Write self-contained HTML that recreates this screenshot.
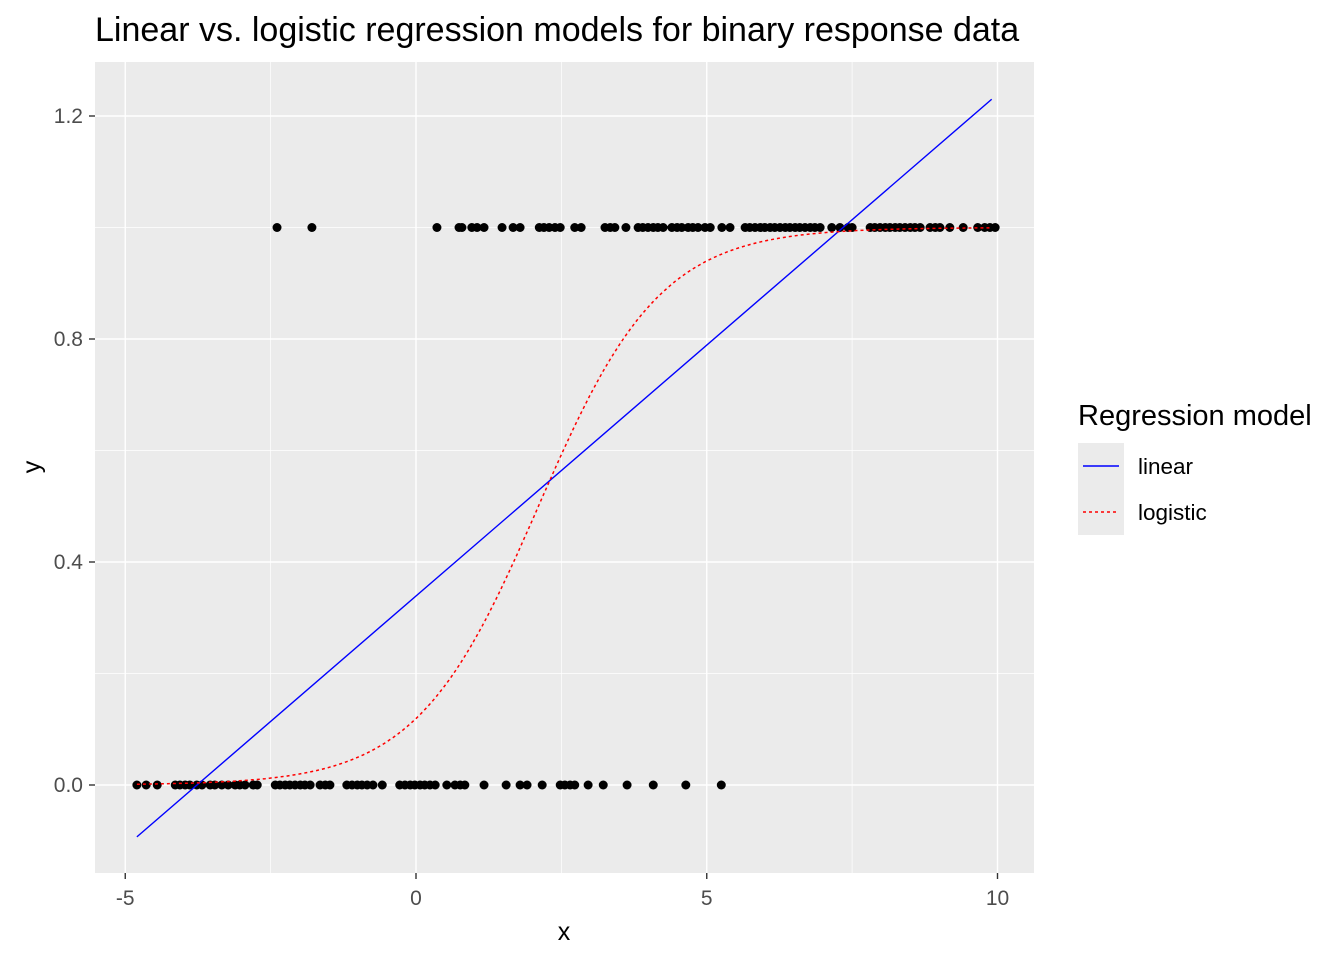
<!DOCTYPE html>
<html><head><meta charset="utf-8"><style>
body{margin:0;background:#fff;font-family:"Liberation Sans",sans-serif}
</style></head><body>
<svg id="c" width="1344" height="960" xmlns="http://www.w3.org/2000/svg" font-family="Liberation Sans, sans-serif"></svg>
<script>
const xTicks=[-5,0,5,10];
const yTicks=[0.0,0.4,0.8,1.2];
const yTickLabels=["0.0","0.4","0.8","1.2"];
const x0=[-4.80,-4.64,-4.45,-4.14,-4.06,-3.97,-3.89,-3.77,-3.68,-3.54,-3.46,-3.34,-3.23,-3.11,-3.03,-2.94,-2.80,-2.73,-2.42,-2.34,-2.25,-2.17,-2.08,-1.99,-1.91,-1.82,-1.65,-1.56,-1.48,-1.19,-1.10,-1.01,-0.93,-0.84,-0.74,-0.58,-0.28,-0.19,-0.10,-0.02,0.07,0.15,0.24,0.33,0.53,0.67,0.76,0.84,1.17,1.55,1.79,1.91,2.17,2.48,2.56,2.65,2.73,2.96,3.22,3.63,4.08,4.64,5.25];
const x1=[-2.39,-1.79,0.36,0.74,0.79,0.96,1.05,1.17,1.48,1.67,1.79,2.12,2.20,2.29,2.39,2.48,2.73,2.84,3.25,3.34,3.42,3.61,3.82,3.90,3.99,4.08,4.16,4.25,4.40,4.49,4.57,4.68,4.76,4.85,4.97,5.06,5.26,5.40,5.66,5.74,5.83,5.92,6.00,6.09,6.17,6.26,6.35,6.43,6.52,6.60,6.69,6.78,6.86,6.95,7.15,7.29,7.43,7.50,7.81,7.89,7.98,8.07,8.15,8.24,8.32,8.41,8.50,8.58,8.67,8.84,8.93,9.01,9.18,9.41,9.66,9.78,9.87,9.96];
const linCoef=[0.339,0.090];
const logCoef=[-2.0,0.95];
const xRange=[-4.8,9.9];

const NS="http://www.w3.org/2000/svg",svg=document.getElementById('c');
const X=v=>416+v*58.15, Y=v=>785-v*557.5;
function el(t,a,p){const e=document.createElementNS(NS,t);for(const k in a)e.setAttribute(k,a[k]);(p||svg).appendChild(e);return e;}
let e=el('rect',{x:95,y:62,width:939,height:811,fill:'#ebebeb'});

[-2.5,2.5,7.5].forEach(v=>{el('line',{x1:X(v),x2:X(v),y1:62,y2:873,stroke:'#fff','stroke-width':0.7});});
[-0.2,0.2,0.6,1.0].forEach(v=>{el('line',{x1:95,x2:1034,y1:Y(v),y2:Y(v),stroke:'#fff','stroke-width':0.7});});
xTicks.forEach(v=>{
 e=el('line',{x1:X(v),x2:X(v),y1:62,y2:873,stroke:'#fff','stroke-width':1.4});
 
 el('line',{x1:X(v),x2:X(v),y1:873,y2:879,stroke:'#333','stroke-width':1.4});
 e=el('text',{x:X(v),y:905,'text-anchor':'middle','font-size':21,fill:'#4d4d4d'});e.textContent=v;
 
});
yTicks.forEach((v,i)=>{
 e=el('line',{x1:95,x2:1034,y1:Y(v),y2:Y(v),stroke:'#fff','stroke-width':1.4});
 
 el('line',{x1:89,x2:95,y1:Y(v),y2:Y(v),stroke:'#333','stroke-width':1.4});
 e=el('text',{x:83,y:Y(v)+7,'text-anchor':'end','font-size':21,fill:'#4d4d4d'});e.textContent=yTickLabels[i];
 
});
const g=el('g',{fill:'#000'});

x0.forEach(v=>el('circle',{cx:X(v),cy:Y(0),r:4.5},g));
x1.forEach(v=>el('circle',{cx:X(v),cy:Y(1),r:4.5},g));
e=el('line',{x1:X(xRange[0]),y1:Y(linCoef[0]+linCoef[1]*xRange[0]),x2:X(xRange[1]),y2:Y(linCoef[0]+linCoef[1]*xRange[1]),stroke:'#00f','stroke-width':1.4});

let d='';for(let i=0;i<=200;i++){const v=xRange[0]+(xRange[1]-xRange[0])*i/200;const p=1/(1+Math.exp(-(logCoef[0]+logCoef[1]*v)));d+=(i?'L':'M')+X(v).toFixed(1)+','+Y(p).toFixed(1);}
e=el('path',{d:d,fill:'none',stroke:'#f00','stroke-width':1.5,'stroke-dasharray':'3,3'});

e=el('text',{x:95,y:41,'font-size':34,fill:'#000'});e.textContent='Linear vs. logistic regression models for binary response data';

e=el('text',{x:564,y:940,'text-anchor':'middle','font-size':25,fill:'#000'});e.textContent='x';

e=el('text',{x:40,y:467,'text-anchor':'middle','font-size':25,fill:'#000',transform:'rotate(-90 40 467)'});e.textContent='y';

e=el('text',{x:1078,y:425,'font-size':29,fill:'#000'});e.textContent='Regression model';

[['linear','#00f',null,466],['logistic','#f00','3,3',512]].forEach(r=>{
 const lg=el('g',{});
 
 el('rect',{x:1078,y:r[3]-23,width:46,height:46,fill:'#ebebeb'},lg);
 const a={x1:1083,x2:1119,y1:r[3],y2:r[3],stroke:r[1],'stroke-width':1.4};if(r[2])a['stroke-dasharray']=r[2];
 el('line',a,lg);
 const t=el('text',{x:1138,y:r[3]+8,'font-size':22.5,fill:'#000'},lg);t.textContent=r[0];
});
</script>
</body></html>
